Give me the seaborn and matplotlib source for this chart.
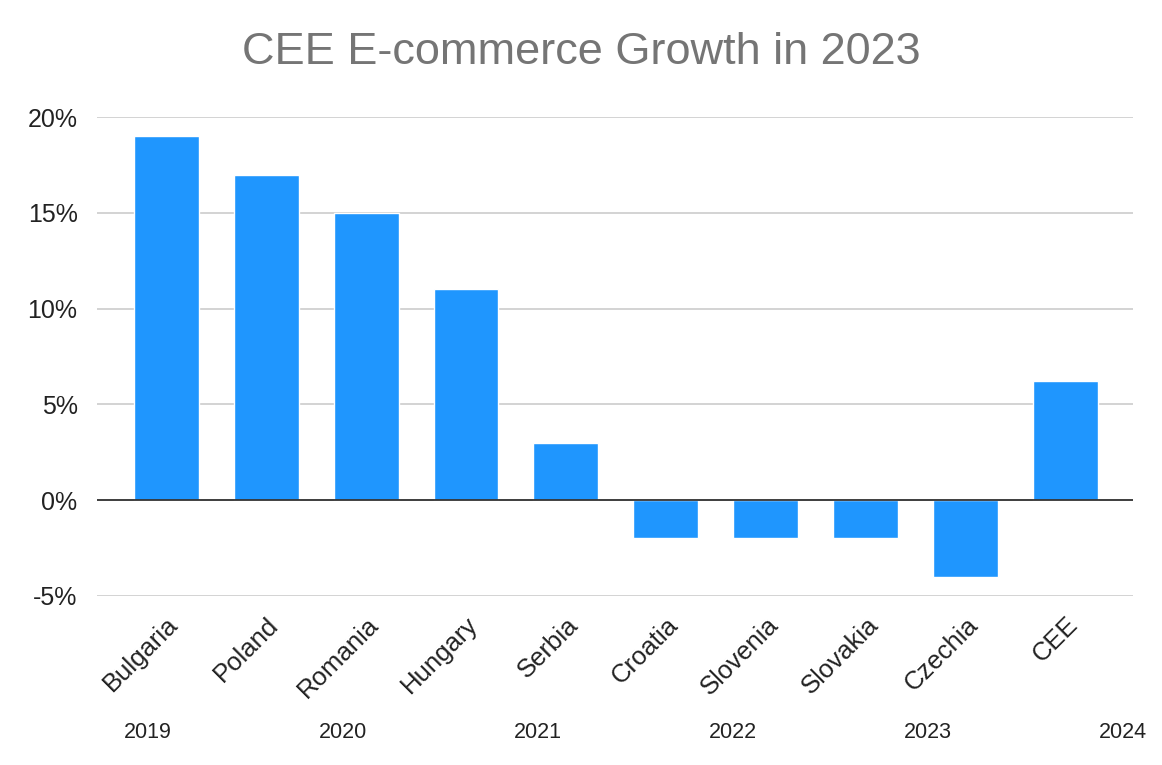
import numpy as np
import pandas as pd
import matplotlib.pyplot as plt
import seaborn as sns

countries = ['Bulgaria', 'Poland', 'Romania', 'Hungary', 'Serbia',
             'Croatia', 'Slovenia', 'Slovakia', 'Czechia', 'CEE']
growth = [19, 17, 15, 11, 3, -2, -2, -2, -4, 6.2]
years = ['2019', '2020', '2021', '2022', '2023', '2024']
yticks = [-5, 0, 5, 10, 15, 20]

df = pd.DataFrame({'country': countries, 'growth': growth})

sns.set_style('white')
plt.rcParams['font.family'] = ['Liberation Sans', 'DejaVu Sans']

fig = plt.figure(figsize=(11.62, 7.65), dpi=100)
ax = fig.add_axes([0.0835, 0.221, 0.8915, 0.626])

sns.barplot(data=df, x='country', y='growth', color='#1f96fe',
            saturation=1, width=0.65, ax=ax, zorder=3)

ax.set_ylim(-5, 20)
ax.set_xlim(-0.69, 9.67)
ax.set_yticks(yticks)
ax.set_yticklabels([f'{t}%' for t in yticks], fontsize=18, color='#222222')
ax.grid(axis='y', color='#cccccc', linewidth=1.2, zorder=0)
ax.axhline(0, color='#333333', linewidth=1.3, zorder=4)
for s in ax.spines.values():
    s.set_visible(False)
ax.tick_params(axis='y', length=0, pad=14)
ax.tick_params(axis='x', length=0, pad=12)
ax.set_xticks(range(len(countries)))
ax.set_xticklabels(countries, rotation=45, ha='right', rotation_mode='anchor',
                   fontsize=18.5, color='#222222')
ax.set_xlabel('')
ax.set_ylabel('')

fig.suptitle('CEE E-commerce Growth in 2023', fontsize=32.5, color='#757575',
             y=0.932, va='center')

for xp, yr in zip(np.linspace(0.127, 0.966, len(years)), years):
    fig.text(xp, 0.042, yr, ha='center', va='center', fontsize=15.5,
             color='#222222')

plt.savefig('out.png', dpi=100)
